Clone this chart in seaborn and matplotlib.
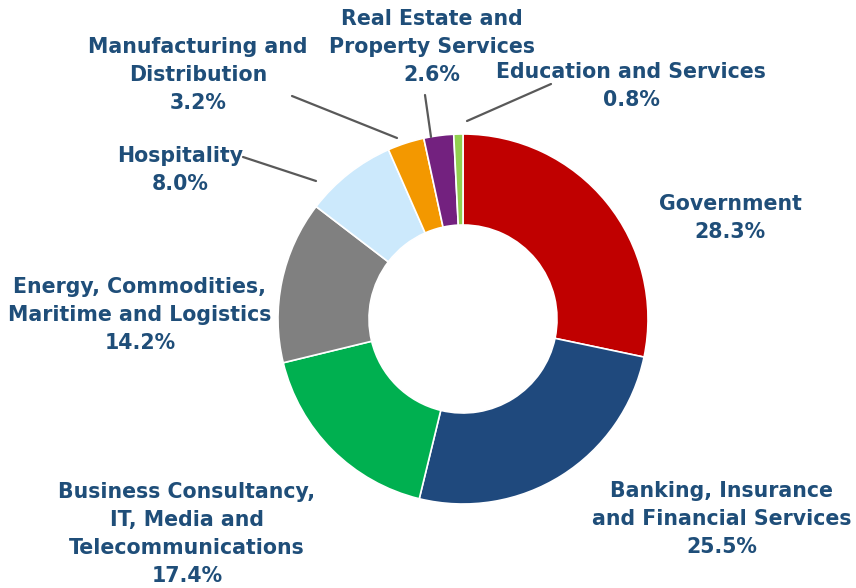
import matplotlib.pyplot as plt
import seaborn as sns

# данные
sectors = [
    "Government",
    "Banking, Insurance\nand Financial Services",
    "Business Consultancy,\nIT, Media and\nTelecommunications",
    "Energy, Commodities,\nMaritime and Logistics",
    "Hospitality",
    "Manufacturing and\nDistribution",
    "Real Estate and\nProperty Services",
    "Education and Services",
]
shares = [28.3, 25.5, 17.4, 14.2, 8.0, 3.2, 2.6, 0.8]
colors = ["#C00000", "#1F497D", "#00B050", "#808080", "#CCE9FC", "#F39800", "#73217F", "#92D050"]

# позиции подписей (в пикселях, y сверху вниз)
label_pos = [(730, 218), (722, 519), (187, 534), (140, 315), (180, 170), (198, 75), (432, 47), (631, 86)]
leaders = {4: ((243, 157), (316, 181)), 5: ((292, 96), (397, 138)),
           6: ((425, 95), (431, 137)), 7: ((551, 84), (467, 121))}

sns.set_theme(style="white")
W, H = 856, 588
fig = plt.figure(figsize=(W / 100, H / 100), dpi=100)
ax = fig.add_axes([0, 0, 1, 1])

ax.pie(shares, colors=colors, startangle=90, counterclock=False,
       center=(463, H - 319), radius=185,
       wedgeprops=dict(width=91, edgecolor="white", linewidth=1.2))

# pie сбрасывает пределы осей, поэтому задаём их после
ax.set_xlim(0, W)
ax.set_ylim(0, H)
ax.set_aspect("equal")
ax.axis("off")

for i, (name, val) in enumerate(zip(sectors, shares)):
    x, y = label_pos[i]
    ax.text(x, H - y, f"{name}\n{val:.1f}%", ha="center", va="center",
            multialignment="center", fontsize=14.8, fontweight="bold",
            color="#1F4E79", linespacing=1.5)

for (x0, y0), (x1, y1) in leaders.values():
    ax.plot([x0, x1], [H - y0, H - y1], color="#595959", lw=1.6)

fig.savefig("out.png", dpi=100)
